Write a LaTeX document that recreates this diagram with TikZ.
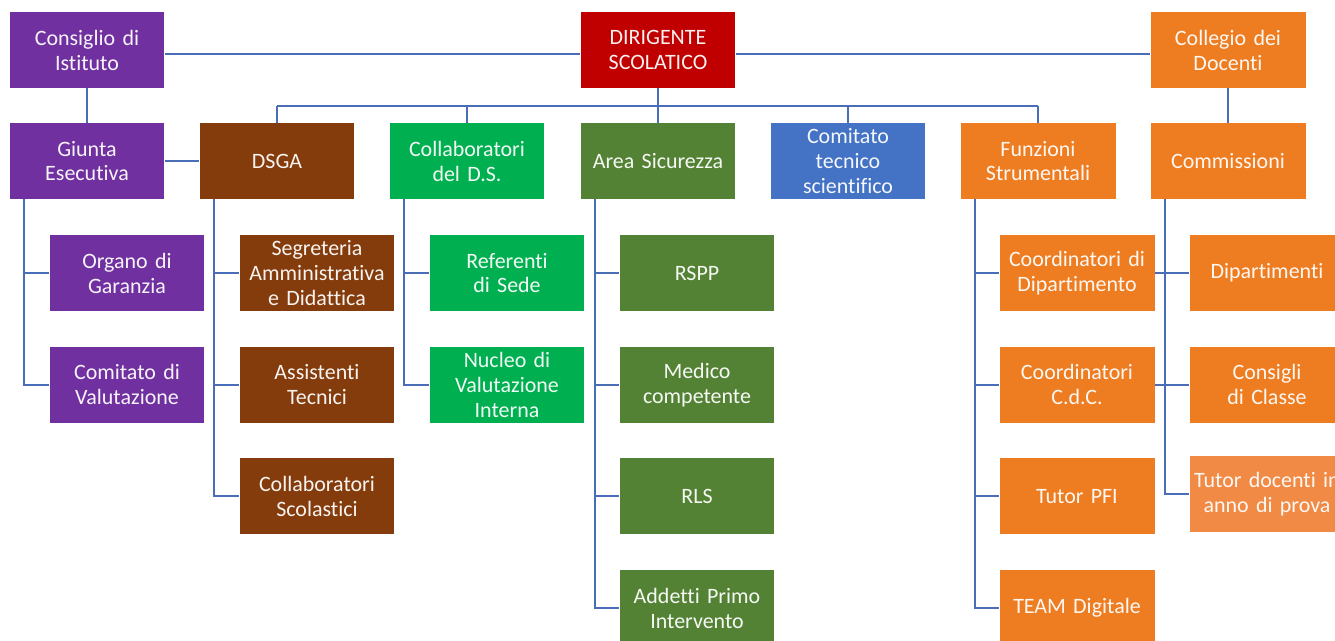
\documentclass[tikz,border=0pt]{standalone}
\usepackage{fontspec}
\setmainfont{Carlito}[Ligatures={NoCommon,NoRare,NoContextual}]
\usetikzlibrary{positioning}
\definecolor{viola}{HTML}{7030A0}
\definecolor{rosso}{HTML}{C00000}
\definecolor{marrone}{HTML}{843C0C}
\definecolor{verde}{HTML}{00B050}
\definecolor{oliva}{HTML}{548235}
\definecolor{blu}{HTML}{4472C4}
\definecolor{arancio}{HTML}{EE7D22}
\definecolor{arancioch}{HTML}{F08A45}
\definecolor{linea}{HTML}{4A6DB8}

\begin{document}
\begin{tikzpicture}[x=0.02cm,y=-0.02cm]
\tikzset{box/.style={rectangle, fill=#1, text=#1!6!white, minimum width=3.1cm,
    minimum height=1.52cm, text width=3.05cm, align=center, inner sep=0pt,
    font=\fontsize{12.5}{14.2}\selectfont},
  conn/.style={draw=linea, line width=1pt},
  node distance=0.7cm}
\useasboundingbox (0,0) rectangle (1335,640);
\clip (0,0) rectangle (1335,640);

% vertice
\node[box=viola] (consiglio) at (87,50) {Consiglio di\\Istituto};
\node[box=rosso] (dirigente) at (658,50) {DIRIGENTE\\SCOLATICO};
\node[box=arancio] (collegio) at (1228,50) {Collegio dei\\Docenti};

% secondo livello
\node[box=viola] (giunta) at (87,161) {Giunta\\Esecutiva};
\node[box=marrone] (dsga) at (277,161) {DSGA};
\node[box=verde] (collab) at (467,161) {Collaboratori\\del D.S.};
\node[box=oliva] (area) at (658,161) {Area Sicurezza};
\node[box=blu] (ctsci) at (848,161) {Comitato\\tecnico\\scientifico};
\node[box=arancio] (funz) at (1038,161) {Funzioni\\Strumentali};
\node[box=arancio] (comm) at (1228,161) {Commissioni};

% terzo livello
\node[box=viola] (organo) at (127,273) {Organo di\\Garanzia};
\node[box=viola, below=of organo] (comval) {Comitato di\\Valutazione};

\node[box=marrone] (segr) at (317,273) {Segreteria\\Amministrativa\\e Didattica};
\node[box=marrone, below=of segr] (assist) {Assistenti\\Tecnici};
\node[box=marrone, below=of assist] (collsc) {Collaboratori\\Scolastici};

\node[box=verde] (refer) at (507,273) {Referenti\\di Sede};
\node[box=verde, below=of refer] (nucleo) {Nucleo di\\Valutazione\\Interna};

\node[box=oliva] (rspp) at (697,273) {RSPP};
\node[box=oliva, below=of rspp] (medico) {Medico\\competente};
\node[box=oliva, below=of medico] (rls) {RLS};
\node[box=oliva, below=of rls] (addetti) {Addetti Primo\\Intervento};

\node[box=arancio] (coorddip) at (1077,273) {Coordinatori di\\Dipartimento};
\node[box=arancio, below=of coorddip] (coordcdc) {Coordinatori\\C.d.C.};
\node[box=arancio, below=of coordcdc] (tutorpfi) {Tutor PFI};
\node[box=arancio, below=of tutorpfi] (team) {TEAM Digitale};

\node[box=arancio] (dipart) at (1267,273) {Dipartimenti};
\node[box=arancio, below=of dipart] (consigli) {Consigli\\di Classe};
\node[box=arancioch, below=0.66cm of consigli] (tutordoc) {Tutor docenti in\\anno di prova};

% collegamenti
\coordinate (top) at (0,54);
\draw[conn] (consiglio.east |- top) -- (dirigente.west |- top);
\draw[conn] (dirigente.east |- top) -- (collegio.west |- top);
\draw[conn] (consiglio) -- (giunta);
\draw[conn] (collegio) -- (comm);
\draw[conn] (giunta) -- (dsga);
\coordinate (bus) at (0,106);
\draw[conn] (dirigente) -- (dirigente |- bus);
\draw[conn] (dsga.north |- bus) -- (funz.north |- bus);
\foreach \n in {dsga,collab,area,ctsci,funz}
  \draw[conn] (\n) -- (\n |- bus);
\foreach \p/\c in {giunta/organo,giunta/comval,dsga/segr,dsga/assist,dsga/collsc,
    collab/refer,collab/nucleo,area/rspp,area/medico,area/rls,area/addetti,
    funz/coorddip,funz/coordcdc,funz/tutorpfi,funz/team,
    comm/dipart,comm/consigli,comm/tutordoc}
  \draw[conn] ([xshift=0.3cm]\p.south west) |- (\c.west);
\draw[conn] (coorddip) -- (dipart);
\draw[conn] (coordcdc) -- (consigli);
\end{tikzpicture}
\end{document}
